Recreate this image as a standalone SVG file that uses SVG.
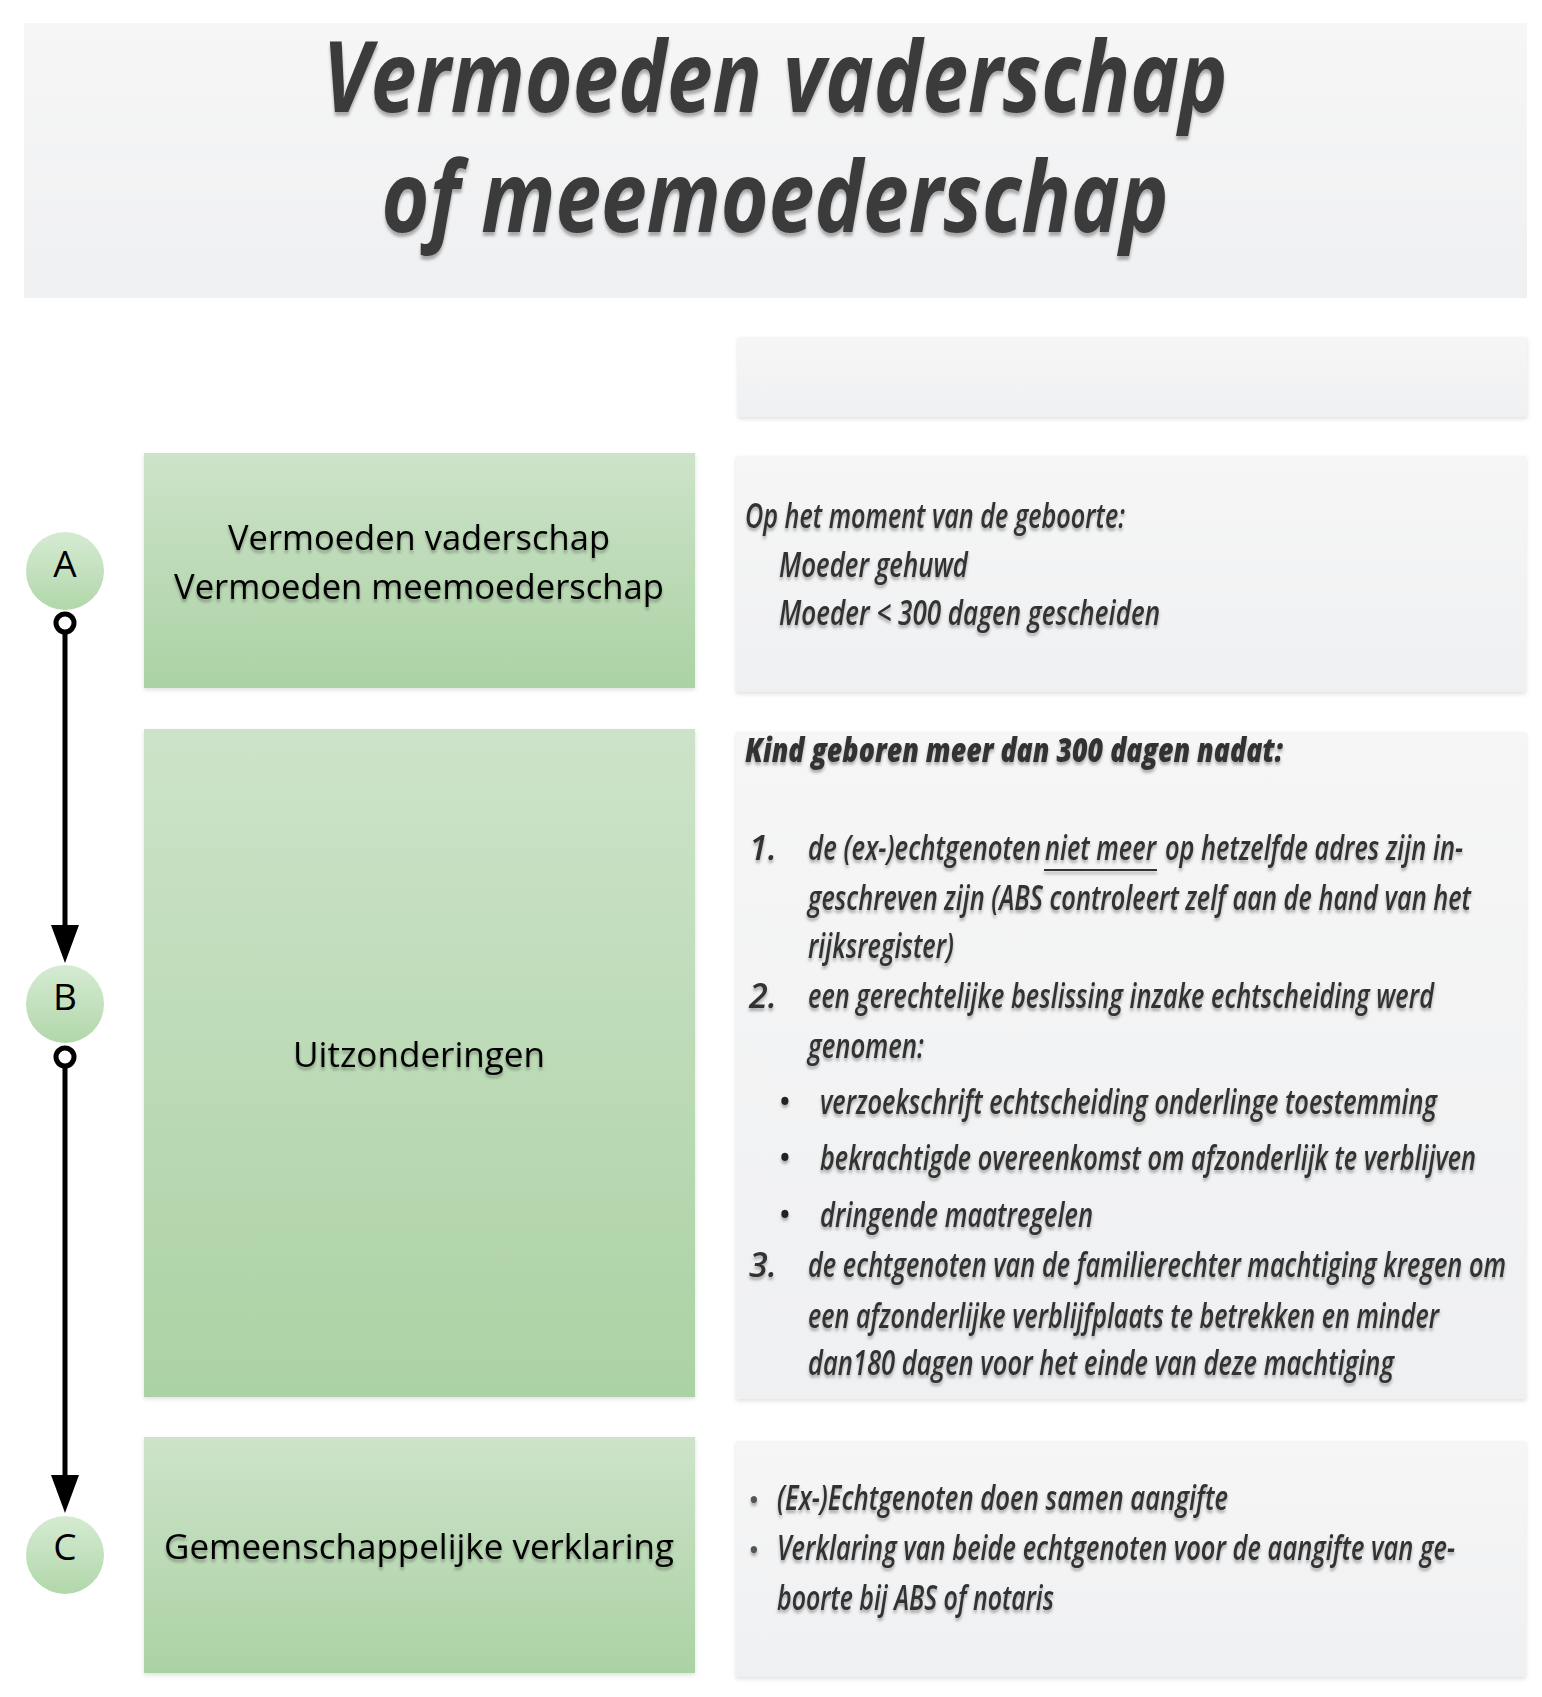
<svg xmlns="http://www.w3.org/2000/svg" width="1542" height="1697" viewBox="0 0 1542 1697">
<defs>
<linearGradient id="gGreen" x1="0" y1="0" x2="0" y2="1"><stop offset="0" stop-color="#cde3c9"/><stop offset="1" stop-color="#abd2a4"/></linearGradient>
<linearGradient id="gCircle" x1="0" y1="0" x2="0" y2="1"><stop offset="0" stop-color="#d5ebd2"/><stop offset="1" stop-color="#b1d7aa"/></linearGradient>
<linearGradient id="gGrey" x1="0" y1="0" x2="0" y2="1"><stop offset="0" stop-color="#f6f6f6"/><stop offset="1" stop-color="#eff0f2"/></linearGradient>
<filter id="boxShadow" x="-5%" y="-5%" width="110%" height="115%"><feDropShadow dx="0" dy="2" stdDeviation="2" flood-color="#000" flood-opacity="0.12"/></filter>
<filter id="txtShadow" x="-5%" y="-20%" width="110%" height="150%"><feDropShadow dx="0" dy="3" stdDeviation="1.5" flood-color="#000" flood-opacity="0.3"/></filter>
<filter id="titleShadow" x="-5%" y="-20%" width="110%" height="150%"><feDropShadow dx="0" dy="4" stdDeviation="1.5" flood-color="#000" flood-opacity="0.3"/></filter>
<marker id="arrow" markerUnits="userSpaceOnUse" viewBox="0 0 38 28" markerWidth="38" markerHeight="28" refX="15" refY="14" orient="auto"><path d="M0,0 L38,14 L0,28 z" fill="#000"/></marker>
</defs>
<style>
.title{font-family:"Open Sans","Liberation Sans",sans-serif;font-weight:bold;font-style:italic;font-size:98px;fill:#3a3a3a;text-anchor:middle}
.green{fill:url(#gGreen)}
.grey{fill:url(#gGrey)}
.gtxt{font-family:"Open Sans","Liberation Sans",sans-serif;font-size:35px;fill:#000;text-anchor:middle}
.letter{font-family:"Open Sans","Liberation Sans",sans-serif;font-size:37px;fill:#000;text-anchor:middle}
.rt{font-family:"Open Sans","Liberation Sans",sans-serif;font-style:italic;font-weight:600;font-size:34px;fill:#333}
.rtb{font-family:"Open Sans","Liberation Sans",sans-serif;font-style:italic;font-weight:800;font-size:34px;fill:#333}
.bul{font-family:"Open Sans","Liberation Sans",sans-serif;font-size:34px;fill:#222;text-anchor:middle}
.bulc{font-family:"Open Sans","Liberation Sans",sans-serif;font-size:30px;fill:#555;text-anchor:middle}
.conn{stroke:#000;stroke-width:5;fill:none}
.ring{stroke:#000;stroke-width:5;fill:#fff}
</style>
<rect width="1542" height="1697" fill="#fff"/>

<g id="title">
<rect x="24" y="23" width="1503" height="275" class="grey"/>
<g filter="url(#titleShadow)">
<text class="title" x="775" y="112" textLength="905" lengthAdjust="spacingAndGlyphs">Vermoeden vaderschap</text>
<text class="title" x="775" y="232" textLength="787" lengthAdjust="spacingAndGlyphs">of meemoederschap</text>
</g>
</g>

<g id="header-blank">
<rect x="738" y="337" width="789" height="80" class="grey" filter="url(#boxShadow)"/>
</g>

<g id="node-A">
<rect x="144" y="453" width="551" height="235" class="green" filter="url(#boxShadow)"/>
<g filter="url(#txtShadow)">
<text class="gtxt" x="419" y="550" textLength="382" lengthAdjust="spacingAndGlyphs">Vermoeden vaderschap</text>
<text class="gtxt" x="419" y="599" textLength="490" lengthAdjust="spacingAndGlyphs">Vermoeden meemoederschap</text>
</g>
</g>

<g id="desc-A">
<rect x="736" y="456" width="790" height="236" class="grey" filter="url(#boxShadow)"/>
<g filter="url(#txtShadow)">
<text class="rt" x="745" y="528" textLength="380" lengthAdjust="spacingAndGlyphs">Op het moment van de geboorte:</text>
<text class="rt" x="779" y="577" textLength="189" lengthAdjust="spacingAndGlyphs">Moeder gehuwd</text>
<text class="rt" x="779" y="625" textLength="381" lengthAdjust="spacingAndGlyphs">Moeder &lt; 300 dagen gescheiden</text>
</g>
</g>

<g id="node-B">
<rect x="144" y="729" width="551" height="668" class="green" filter="url(#boxShadow)"/>
<text class="gtxt" x="419" y="1067" textLength="252" lengthAdjust="spacingAndGlyphs" filter="url(#txtShadow)">Uitzonderingen</text>
</g>

<g id="desc-B">
<rect x="736" y="732" width="790" height="667" class="grey" filter="url(#boxShadow)"/>
<g filter="url(#txtShadow)">
<text class="rtb" x="745" y="762" textLength="538" lengthAdjust="spacingAndGlyphs">Kind geboren meer dan 300 dagen nadat:</text>
<text class="rt" x="749" y="860">1.</text>
<text class="rt" x="808" y="860" textLength="233" lengthAdjust="spacingAndGlyphs">de (ex-)echtgenoten</text>
<text class="rt" x="1045" y="860" textLength="111" lengthAdjust="spacingAndGlyphs">niet meer</text>
<line x1="1044" y1="870" x2="1157" y2="870" stroke="#333" stroke-width="2"/>
<text class="rt" x="1165" y="860" textLength="298" lengthAdjust="spacingAndGlyphs">op hetzelfde adres zijn in-</text>
<text class="rt" x="808" y="910" textLength="663" lengthAdjust="spacingAndGlyphs">geschreven zijn (ABS controleert zelf aan de hand van het</text>
<text class="rt" x="808" y="958" textLength="146" lengthAdjust="spacingAndGlyphs">rijksregister)</text>
<text class="rt" x="749" y="1008">2.</text>
<text class="rt" x="808" y="1008" textLength="626" lengthAdjust="spacingAndGlyphs">een gerechtelijke beslissing inzake echtscheiding werd</text>
<text class="rt" x="808" y="1058" textLength="116" lengthAdjust="spacingAndGlyphs">genomen:</text>
<text class="bul" x="785" y="1114">•</text>
<text class="rt" x="820" y="1114" textLength="617" lengthAdjust="spacingAndGlyphs">verzoekschrift echtscheiding onderlinge toestemming</text>
<text class="bul" x="785" y="1170">•</text>
<text class="rt" x="820" y="1170" textLength="656" lengthAdjust="spacingAndGlyphs">bekrachtigde overeenkomst om afzonderlijk te verblijven</text>
<text class="bul" x="785" y="1227">•</text>
<text class="rt" x="820" y="1227" textLength="273" lengthAdjust="spacingAndGlyphs">dringende maatregelen</text>
<text class="rt" x="749" y="1277">3.</text>
<text class="rt" x="808" y="1277" textLength="698" lengthAdjust="spacingAndGlyphs">de echtgenoten van de familierechter machtiging kregen om</text>
<text class="rt" x="808" y="1328" textLength="631" lengthAdjust="spacingAndGlyphs">een afzonderlijke verblijfplaats te betrekken en minder</text>
<text class="rt" x="808" y="1375" textLength="586" lengthAdjust="spacingAndGlyphs">dan180 dagen voor het einde van deze machtiging</text>
</g>
</g>

<g id="node-C">
<rect x="144" y="1437" width="551" height="236" class="green" filter="url(#boxShadow)"/>
<text class="gtxt" x="419" y="1559" textLength="510" lengthAdjust="spacingAndGlyphs" filter="url(#txtShadow)">Gemeenschappelijke verklaring</text>
</g>

<g id="desc-C">
<rect x="736" y="1441" width="790" height="236" class="grey" filter="url(#boxShadow)"/>
<g filter="url(#txtShadow)">
<text class="bulc" x="754" y="1510">•</text>
<text class="rt" x="777" y="1510" textLength="451" lengthAdjust="spacingAndGlyphs">(Ex-)Echtgenoten doen samen aangifte</text>
<text class="bulc" x="754" y="1560">•</text>
<text class="rt" x="777" y="1560" textLength="678" lengthAdjust="spacingAndGlyphs">Verklaring van beide echtgenoten voor de aangifte van ge-</text>
<text class="rt" x="777" y="1610" textLength="277" lengthAdjust="spacingAndGlyphs">boorte bij ABS of notaris</text>
</g>
</g>

<g id="connectors">
<path class="conn" d="M65,632 V940" marker-end="url(#arrow)"/>
<path class="conn" d="M65,1066 V1490" marker-end="url(#arrow)"/>
<circle class="ring" cx="65" cy="623" r="9"/>
<circle class="ring" cx="65" cy="1057" r="9"/>
</g>

<g id="circle-A">
<circle cx="65" cy="571" r="39" fill="url(#gCircle)"/>
<text class="letter" x="65" y="577">A</text>
</g>
<g id="circle-B">
<circle cx="65" cy="1004" r="39" fill="url(#gCircle)"/>
<text class="letter" x="65" y="1010">B</text>
</g>
<g id="circle-C">
<circle cx="65" cy="1555" r="39" fill="url(#gCircle)"/>
<text class="letter" x="65" y="1560">C</text>
</g>
</svg>
